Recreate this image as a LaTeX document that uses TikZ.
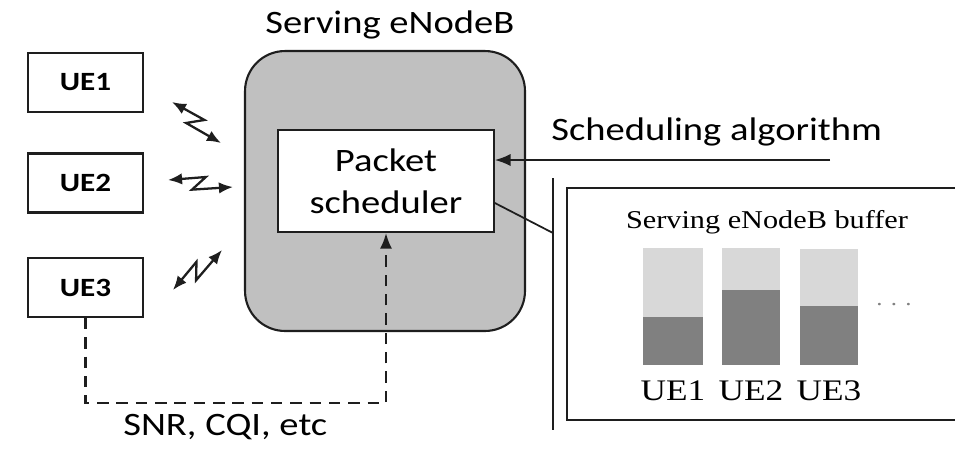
\documentclass[tikz,border=0pt]{standalone}
\usepackage{fontspec}
\setmainfont{Carlito}[FakeStretch=1.18]
\newfontfamily\bufffont{Liberation Serif}[FakeStretch=1.18]
\usetikzlibrary{arrows.meta, calc, positioning}
\definecolor{enbgray}{RGB}{192,192,192}
\definecolor{qlight}{RGB}{216,216,216}
\definecolor{qdark}{RGB}{128,128,128}
\definecolor{inkline}{RGB}{30,30,30}

\tikzset{
    uebox/.style={draw=inkline, line width=1.2pt, minimum width=2.3cm, minimum height=1.18cm,
        font=\fontsize{15}{18}\selectfont\bfseries},
    txt/.style={inner sep=0pt, font=\fontsize{18.6}{24}\selectfont},
    bolt/.style={{Latex[length=8pt,width=6.5pt]}-{Latex[length=8pt,width=6.5pt]}, line width=1.3pt,
        draw=inkline,
        to path={-- ($(\tikztostart)!0.57!(\tikztotarget)!4pt!90:(\tikztotarget)$)
                 -- ($(\tikztostart)!0.38!(\tikztotarget)!4pt!-90:(\tikztotarget)$)
                 -- (\tikztotarget)}},
    dashedline/.style={dashed, dash pattern=on 6.5pt off 4.5pt, line width=1.5pt, draw=inkline}
}

\begin{document}
\begin{tikzpicture}[x=0.02cm, y=-0.02cm]
    \useasboundingbox (0,0) rectangle (955,454);
    \clip (0,0) rectangle (955,454);

    % User equipments
    \node[uebox] (ue1) at (85.5,82.5) {UE1};
    \node[uebox] (ue2) at (85.5,183) {UE2};
    \node[uebox] (ue3) at (85.5,287.5) {UE3};

    % eNodeB with its scheduler
    \node[draw=inkline, line width=1.2pt, fill=enbgray, rounded corners=0.8cm,
        minimum width=5.6cm, minimum height=5.6cm] (enb) at (385,191) {};
    \node[txt, anchor=base west] (enbname) at (265,33) {Serving eNodeB};
    \node[draw=inkline, line width=1pt, fill=white, txt, align=center,
        minimum width=4.32cm, minimum height=2.04cm] (sched) at (386,181) {Packet\\scheduler};

    % Radio links
    \coordinate (a1) at (172,102);  \coordinate (b1) at (221,143);
    \coordinate (a2) at (168,180);  \coordinate (b2) at (233,187);
    \coordinate (a3) at (173,290);  \coordinate (b3) at (222,250);
    \draw[bolt] (a1) to (b1);
    \draw[bolt] (a2) to (b2);
    \draw[bolt] (a3) to (b3);

    % Algorithm input
    \coordinate (algo) at (830,160);
    \draw[line width=1pt, draw=inkline, -{Latex[length=9pt,width=7pt]}] (algo) -- (algo -| sched.east);
    \node[txt, anchor=base west] (algoname) at (551,140) {Scheduling algorithm};

    % Buffer panel
    \coordinate (vtop) at (553,178);
    \coordinate (vbot) at (553,430);
    \coordinate (tap) at (553,233);
    \draw[line width=1.2pt, draw=inkline] (vtop) -- (vbot);
    \draw[line width=1pt, draw=inkline] (sched.east) ++(0,22) -- (tap);
    \draw[line width=1.3pt, draw=inkline] (567,188) rectangle (975,420);
    \node[anchor=base, inner sep=0pt, font=\bufffont\fontsize{14.6}{18}\selectfont] (bufname) at (767,228)
        {Serving eNodeB buffer};

    % Queues: light = empty, dark = filled
    \foreach \i/\xa/\xb/\ytop/\yfill in {1/643/703/248/317, 2/722/780/248/290, 3/800/858/249/306} {
        \fill[qlight] (\xa,\ytop) rectangle (\xb,\yfill);
        \fill[qdark] (\xa,\yfill) rectangle (\xb,365);
        \node[anchor=base, inner sep=0pt, font=\bufffont\fontsize{17}{20}\selectfont] (q\i)
            at ({(\xa+\xb)/2},400) {UE\i};
    }
    \node[inner sep=0pt, font=\bufffont\fontsize{12}{14}\selectfont, text=qdark] (more) at (894,305) {. . .};

    % Channel feedback
    \draw[dashedline, -{Latex[length=9pt,width=7pt]}] (ue3.south) -- ++(0,85) -| (sched.south);
    \node[txt, anchor=base west] (feedback) at (123,435) {SNR, CQI, etc};
\end{tikzpicture}
\end{document}
